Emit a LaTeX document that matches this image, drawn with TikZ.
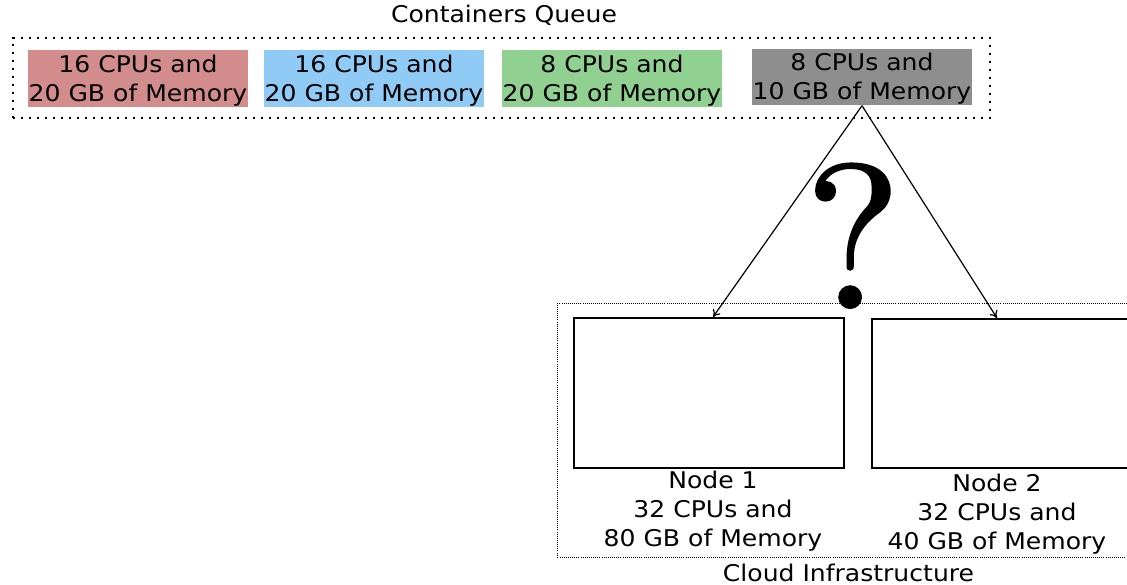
\documentclass[tikz,border=0pt]{standalone}
\usepackage{fontspec}
\newfontfamily\dvsans{DejaVu Sans}[FakeStretch=1.09]
\newfontfamily\qfont{lmroman10-regular}[Extension=.otf, FakeBold=1]
\usetikzlibrary{arrows.meta}
\definecolor{qred}{HTML}{D38C8C}
\definecolor{qblue}{HTML}{8FCBF5}
\definecolor{qgreen}{HTML}{90D090}
\definecolor{qgray}{HTML}{8E8E8E}
\begin{document}
\begin{tikzpicture}[x=1pt,y=-1pt,
  every node/.style={inner sep=0pt, font=\dvsans\fontsize{23}{29}\selectfont},
  cbox/.style={minimum width=220pt, minimum height=57pt, align=center, text depth=2pt},
  qframe/.style={draw, line width=2.4pt, dash pattern=on 2.4pt off 5.6pt},
  cframe/.style={draw, line width=0.9pt, dash pattern=on 0.9pt off 1.2pt},
  hostbox/.style={draw, line width=2pt, anchor=north west},
  hostlabel/.style={align=center},
  arr/.style={-{To[length=7pt,width=9pt]}, line width=1.2pt}]
\useasboundingbox (0,0) rectangle (1127,585);
\clip (0,0) rectangle (1127,585);

% containers queue
\node (qtitle) at (504,15) {Containers Queue};
\node[qframe, minimum width=977pt, minimum height=80pt] (queue) at (501.5,78) {};
\node[cbox, fill=qred]   (c1) at (138,79) {16 CPUs and\\20 GB of Memory};
\node[cbox, fill=qblue]  (c2) at (374,79) {16 CPUs and\\20 GB of Memory};
\node[cbox, fill=qgreen] (c3) at (612,79) {8 CPUs and\\20 GB of Memory};
\node[cbox, fill=qgray, minimum height=56pt] (c4) at (862,77.5) {8 CPUs and\\10 GB of Memory};

% cloud infrastructure
\node[cframe, anchor=north west, minimum width=600pt, minimum height=254pt] (cloud) at (557,303) {};
\node[hostbox, minimum width=270pt, minimum height=150pt] (n1) at (573,317) {};
\node[hostbox, minimum width=290pt, minimum height=149pt] (n2) at (871,318) {};
\node[hostlabel] (l1) at (713,511) {Node 1\\32 CPUs and\\80 GB of Memory};
\node[hostlabel] (l2) at (997,514) {Node 2\\32 CPUs and\\40 GB of Memory};
\node (ctitle) at (848.5,573) {Cloud Infrastructure};

% placement choice
\node[font=\qfont\fontsize{205}{205}\selectfont, anchor=base] (q) at (853,308) {?};
\draw[arr] (c4.south) -- (n1.north -| l1);
\draw[arr] (c4.south) -- (n2.north -| l2);
\end{tikzpicture}
\end{document}
